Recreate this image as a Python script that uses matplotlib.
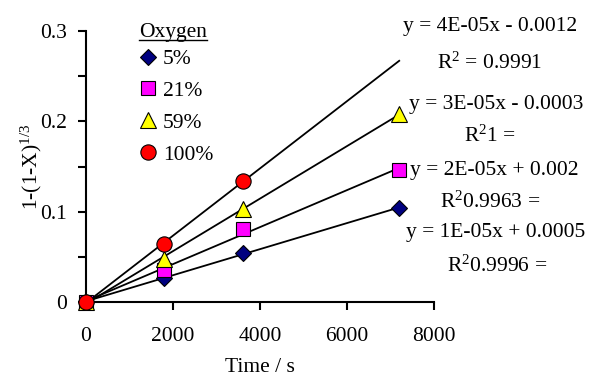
import numpy as np
import matplotlib
matplotlib.use("Agg")
import matplotlib.pyplot as plt
from matplotlib.lines import Line2D
from matplotlib.ticker import FixedLocator

plt.rcParams["font.family"] = ["Liberation Serif", "DejaVu Serif"]
plt.rcParams["mathtext.fontset"] = "custom"
plt.rcParams["mathtext.rm"] = "Liberation Serif"
plt.rcParams["mathtext.it"] = "Liberation Serif:italic"
FS = 15.5

# ── data ─────────────────────────────────────────────────────────────────────
time_s     = [0, 1800, 3600, 7200]
o2_5       = [0.0, 0.027, 0.054, 0.104]
o2_21      = [0.0, 0.035, 0.081, 0.146]
o2_59      = [0.0, 0.048, 0.103, 0.208]
time_100   = [0, 1800, 3600]
o2_100     = [0.0, 0.064, 0.134]
fit_range  = [0, 7200]

labels   = ["5%", "21%", "59%", "100%"]
markers  = ["D", "s", "^", "o"]
colors   = ["#000080", "#FF00FF", "#FFFF00", "#FF0000"]
msizes   = [8.5, 9.5, 11, 11]

eq_texts = [
    "y = 4E-05x - 0.0012", "R$^2$ = 0.9991",
    "y = 3E-05x - 0.0003", "R$^2$1 =",
    "y = 2E-05x + 0.002", "R$^2$0.9963 =",
    "y = 1E-05x + 0.0005", "R$^2$0.9996 =",
]
eq_pos = [(490, 27), (490, 63), (496, 104), (490, 136),
          (494, 170), (490, 202), (496, 233), (497, 266)]

series = [(time_s, o2_5), (time_s, o2_21), (time_s, o2_59), (time_100, o2_100)]

# ── plot ─────────────────────────────────────────────────────────────────────
W, H = 590, 380
fig = plt.figure(figsize=(W / 100, H / 100), dpi=100)
ax = fig.add_axes([86 / W, 1 - 302 / H, 348 / W, 271 / H])

# trendlines first
xf = np.array(fit_range, dtype=float)
for xs, ys in series:
    k, b = np.polyfit(xs, ys, 1)
    ax.plot(xf, k * xf + b, color="black", lw=1.3, zorder=2)

handles = []
for (xs, ys), lab, mk, c, ms in zip(series, labels, markers, colors, msizes):
    h, = ax.plot(xs, ys, linestyle="none", marker=mk, markersize=ms,
                 markerfacecolor=c, markeredgecolor="black", markeredgewidth=0.8,
                 clip_on=False, zorder=3, label=lab)
    handles.append(h)

ax.set_xlim(0, 8000)
ax.set_ylim(0, 0.3)
ax.set_xticks([0, 2000, 4000, 6000, 8000])
ax.set_yticks([0, 0.1, 0.2, 0.3])
ax.set_yticklabels(["0", "0.1", "0.2", "0.3"])
ax.yaxis.set_minor_locator(FixedLocator([0.05, 0.15, 0.25]))
for s in ["top", "right"]:
    ax.spines[s].set_visible(False)
for s in ["left", "bottom"]:
    ax.spines[s].set_linewidth(1.5)
ax.tick_params(axis="both", which="both", direction="out", width=1.5,
               length=6, labelsize=FS)
ax.tick_params(axis="x", pad=12)
ax.tick_params(axis="y", pad=8)

ax.set_xlabel("Time / s", fontsize=FS)
ax.xaxis.set_label_coords(0.5, -0.205)
ax.set_ylabel("1-(1-X)$^{\\mathrm{1/3}}$", fontsize=FS)
ax.yaxis.set_label_coords(-0.12, 0.5)

leg = ax.legend(handles=handles, loc="upper left",
                bbox_to_anchor=(139 / W, 1 - 49 / H), bbox_transform=fig.transFigure,
                frameon=False, fontsize=FS, borderpad=0,
                borderaxespad=0, handlelength=0.8, handletextpad=0.3,
                labelspacing=0.55)

# legend heading, underlined
title = fig.text(139 / W, 1 - 33 / H, "Oxygen", ha="left", va="center", fontsize=FS)
fig.canvas.draw()
bb = title.get_window_extent().transformed(fig.transFigure.inverted())
fig.add_artist(Line2D([bb.x0, bb.x1], [1 - 40 / H, 1 - 40 / H],
                      transform=fig.transFigure, color="black", lw=1.0))

for t, (px, py) in zip(eq_texts, eq_pos):
    fig.text(px / W, 1 - py / H, t, ha="center", va="center", fontsize=FS)

fig.savefig("out.png", dpi=100)
